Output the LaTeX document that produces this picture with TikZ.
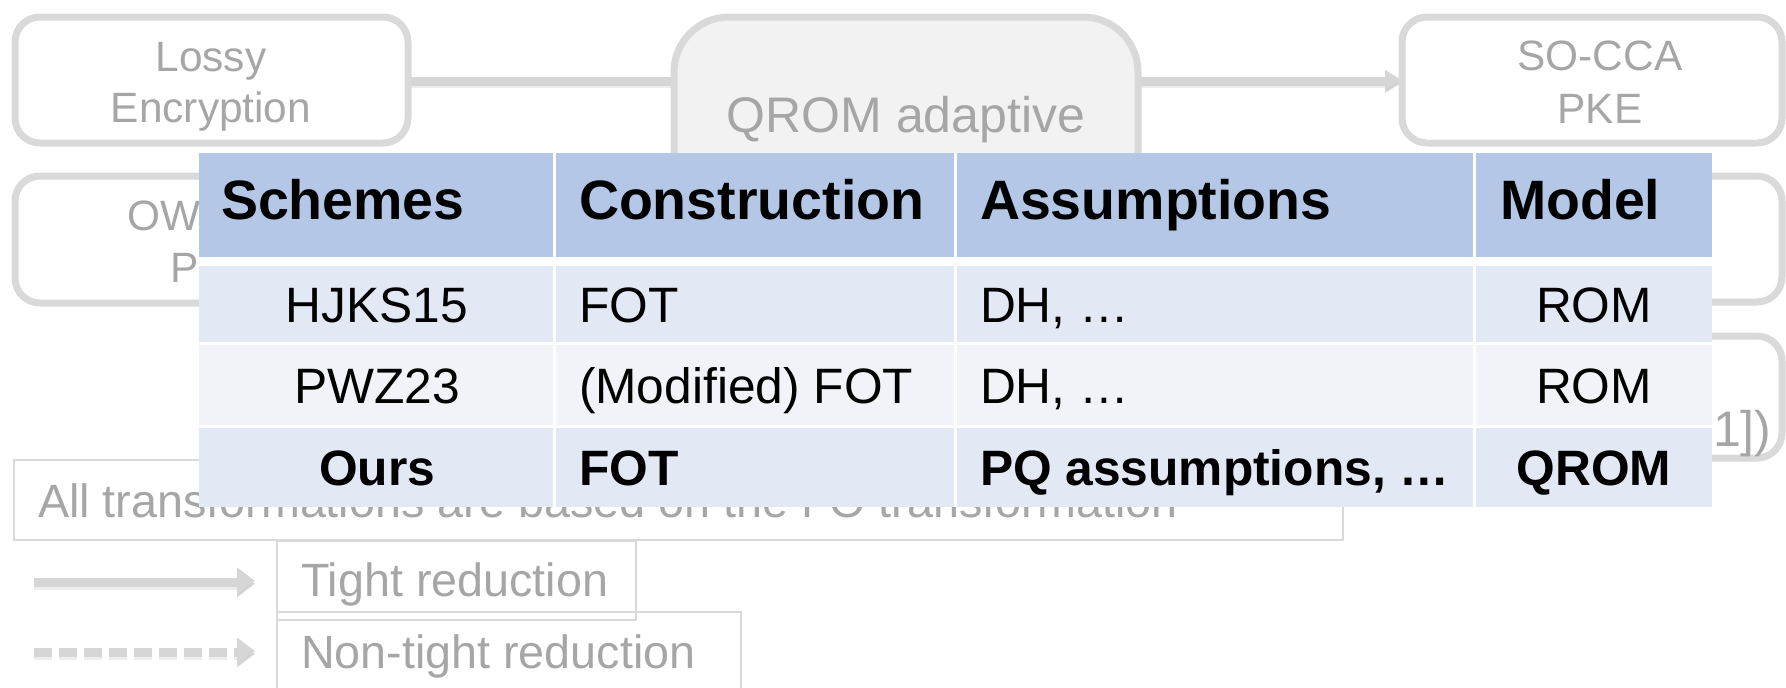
\documentclass[tikz,border=0pt]{standalone}
\usepackage{fontspec}
\setmainfont{Liberation Sans}
\usetikzlibrary{arrows.meta}
\definecolor{hdr}{HTML}{B4C7E7}
\definecolor{bandA}{HTML}{E2E8F4}
\definecolor{bandB}{HTML}{F1F3F9}
\definecolor{boxline}{HTML}{D9D9D9}
\definecolor{graytext}{HTML}{A6A6A6}
\definecolor{qfill}{HTML}{F2F2F2}
\definecolor{connc}{HTML}{D6D6D6}
\pgfdeclarelayer{bg}
\pgfsetlayers{bg,main}
\newcommand\fboxtxt{\fontsize{42.4}{50}\selectfont}
\newcommand\fbigtxt{\fontsize{50}{58}\selectfont}
\newcommand\flegend{\fontsize{46.7}{54}\selectfont}
\newcommand\fhead{\fontsize{55.5}{62}\selectfont\bfseries}
\newcommand\fbody{\fontsize{49.7}{57}\selectfont}
\begin{document}
\begin{tikzpicture}[x=1pt,y=-1pt,
  rbox/.style={draw=boxline, line width=7pt, fill=white, rounded corners=25pt, inner sep=0pt, outer sep=0pt},
  qbox/.style={draw=boxline, line width=7pt, fill=qfill, rounded corners=55pt, inner sep=0pt, outer sep=0pt},
  gtxt/.style={inner sep=0pt, outer sep=0pt, text=graytext},
  ttxt/.style={inner sep=0pt, outer sep=0pt, text=black},
  lbox/.style={draw=boxline, line width=2pt},
  conn/.style={draw=connc, line width=6pt},
  shadA/.style={draw=black, draw opacity=.07, fill opacity=.07, line width=10pt, transform canvas={yshift=-3pt}},
  shadB/.style={draw=black, draw opacity=.10, fill opacity=.10, line width=6pt, transform canvas={yshift=-2.5pt}},
  conntip/.style={-{Triangle[length=17pt,width=19pt]}},
  legtip/.style={-{Triangle[length=18pt,width=26pt]}},
]
\useasboundingbox (0,0) rectangle (1786,688);

% ---------- background diagram boxes ----------
\node[rbox, minimum width=393pt, minimum height=126pt] (lossy) at (211.5,80) {};
\node[qbox, minimum width=464pt, minimum height=223pt] (qrom) at (906,128.5) {};
\node[rbox, minimum width=380pt, minimum height=126pt] (socca) at (1592,80) {};
\node[rbox, minimum width=393pt, minimum height=127pt] (owcpa) at (211.5,239.5) {};
\node[rbox, minimum width=380pt, minimum height=126pt] (rboxb) at (1592,239) {};
\node[rbox, minimum width=380pt, minimum height=122pt] (rboxc) at (1592,397) {};

\node[gtxt, anchor=base] (lossyA) at (211,71) {\fboxtxt Lossy};
\node[gtxt, anchor=base] (lossyB) at (211,122) {\fboxtxt Encryption};
\node[gtxt, anchor=base] (qromT) at (906,132) {\fbigtxt QROM adaptive};
\node[gtxt, anchor=base] (soccaA) at (1600,70) {\fboxtxt SO-CCA};
\node[gtxt, anchor=base] (soccaB) at (1600,123) {\fboxtxt PKE};
\node[gtxt, anchor=base] (owA) at (213,230) {\fboxtxt OW-CPA};
\node[gtxt, anchor=base] (owB) at (213,282) {\fboxtxt PKE};
\node[gtxt, anchor=base west] (refT) at (1713,446) {\fbigtxt 1])};

\begin{pgfonlayer}{bg}
\draw[shadA] (lossy.east) -- (qrom.west |- lossy.east);
\draw[shadB] (lossy.east) -- (qrom.west |- lossy.east);
\draw[conn] (lossy.east) -- (qrom.west |- lossy.east);
\draw[shadA, conntip] (qrom.east |- socca.west) -- (socca.west);
\draw[shadB, conntip] (qrom.east |- socca.west) -- (socca.west);
\draw[conn, conntip] (qrom.east |- socca.west) -- (socca.west);
\end{pgfonlayer}

% ---------- legend ----------
\draw[lbox] (14,460) rectangle (1343,540);
\node[gtxt, anchor=base west] (allT) at (38,517) {\flegend All transformations are based on the FO transformation};
\draw[lbox] (277,541) rectangle (636,620);
\node[gtxt, anchor=base west] (tightT) at (301,596) {\flegend Tight reduction};
\draw[lbox] (277,612) rectangle (741,700);
\node[gtxt, anchor=base west] (ntightT) at (301,668) {\flegend Non-tight reduction};
\coordinate (ta) at (34,581);
\coordinate (tb) at (255,581);
\coordinate (na) at (34,651);
\coordinate (nb) at (255,651);
\draw[shadA, line width=11pt, legtip] (ta) -- (tb);
\draw[shadB, line width=7pt, legtip] (ta) -- (tb);
\draw[conn, line width=7pt, legtip] (ta) -- (tb);
\draw[shadA, line width=11pt, legtip, dash pattern=on 18pt off 7pt] (na) -- (nb);
\draw[shadB, line width=7pt, legtip, dash pattern=on 18pt off 7pt] (na) -- (nb);
\draw[conn, line width=7pt, legtip, dash pattern=on 18pt off 7pt] (na) -- (nb);

% ---------- table ----------
\fill[white] (199,153) rectangle (1712,507);
\fill[hdr] (199,153) rectangle (553,257);
\fill[hdr] (556,153) rectangle (954,257);
\fill[hdr] (957,153) rectangle (1473,257);
\fill[hdr] (1476,153) rectangle (1712,257);
\foreach \ya/\yb/\cc in {266/342/bandA, 345/425/bandB, 428/507/bandA}{
  \fill[\cc] (199,\ya) rectangle (553,\yb);
  \fill[\cc] (556,\ya) rectangle (954,\yb);
  \fill[\cc] (957,\ya) rectangle (1473,\yb);
  \fill[\cc] (1476,\ya) rectangle (1712,\yb);
}
\node[ttxt, anchor=base west] (h1) at (221,219) {\fhead Schemes};
\node[ttxt, anchor=base west] (h2) at (579,219) {\fhead Construction};
\node[ttxt, anchor=base west] (h3) at (980,219) {\fhead Assumptions};
\node[ttxt, anchor=base west] (h4) at (1500,219) {\fhead Model};

\node[ttxt, anchor=base] (a1) at (377,322) {\fbody HJKS15};
\node[ttxt, anchor=base west] (a2) at (579,322) {\fbody FOT};
\node[ttxt, anchor=base west] (a3) at (980,322) {\fbody DH, …};
\node[ttxt, anchor=base] (a4) at (1594,322) {\fbody ROM};

\node[ttxt, anchor=base] (b1) at (377,403) {\fbody PWZ23};
\node[ttxt, anchor=base west] (b2) at (579,403) {\fbody (Modified) FOT};
\node[ttxt, anchor=base west] (b3) at (980,403) {\fbody DH, …};
\node[ttxt, anchor=base] (b4) at (1594,403) {\fbody ROM};

\node[ttxt, anchor=base] (c1) at (377,485) {\fbody\bfseries Ours};
\node[ttxt, anchor=base west] (c2) at (579,485) {\fbody\bfseries FOT};
\node[ttxt, anchor=base west] (c3) at (980,485) {\fbody\bfseries PQ assumptions, …};
\node[ttxt, anchor=base] (c4) at (1594,485) {\fbody\bfseries QROM};
\end{tikzpicture}
\end{document}
